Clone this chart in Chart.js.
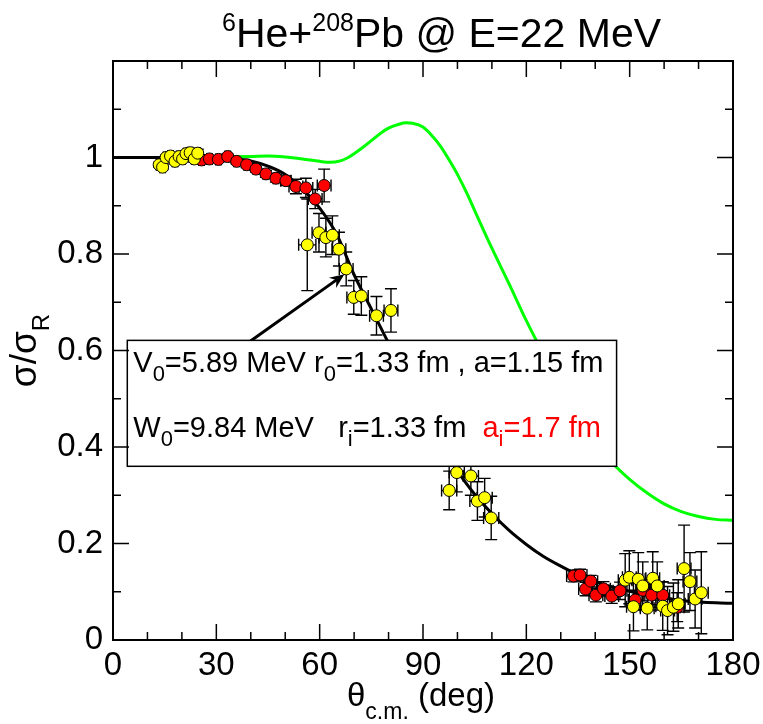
<!DOCTYPE html>
<html>
<head>
<meta charset="utf-8">
<script src="https://cdn.jsdelivr.net/npm/chart.js@4.4.1/dist/chart.umd.min.js"></script>
<style>
  body { margin: 0; background: #fff; }
  #wrap { width: 763px; height: 724px; }
</style>
</head>
<body>
<div id="wrap"><canvas id="chart"></canvas></div>
<script>
// theory curves
var blackTheta = [0,5,10,15,20,25,30,35,40,45,50,55,60,65,70,75,80,85,90,95,100,105,110,115,120,125,130,135,140,145,150,155,160,165,170,175,180];
var blackSigma = [1,1,1,1,1,1,0.999,0.997,0.993,0.982,0.965,0.935,0.895,0.84,0.757,0.686,0.615,0.54,0.47,0.405,0.35,0.302,0.262,0.227,0.198,0.173,0.153,0.135,0.121,0.11,0.101,0.093,0.087,0.082,0.079,0.077,0.076];

var greenTheta = [0,10,20,30,40,45,50,55,60,63,66,68,70,72,75,78,80,83,85,87,90,93,95,98,100,103,105,110,115,120,125,130,135,140,145,150,155,160,165,170,175,180];
var greenSigma = [1,1,1,1.001,1.002,1.003,1.001,0.997,0.992,0.99,0.993,0.999,1.008,1.018,1.035,1.052,1.061,1.069,1.072,1.071,1.063,1.042,1.024,0.99,0.965,0.922,0.89,0.812,0.738,0.662,0.592,0.525,0.465,0.41,0.367,0.333,0.305,0.282,0.266,0.256,0.25,0.248];

// data, red set
var redTheta = [25.7,28.0,30.6,33.3,35.9,38.8,41.5,44.4,47.3,50.2,53.1,56.0,58.7,61.3,133.7,135.6,137.2,138.7,140.2,142.4,144.8,147.2,151.6,153.9,156.4,159.6,163.8];
var redSigma = [0.995,0.997,0.996,1.002,0.992,0.985,0.976,0.966,0.957,0.952,0.94,0.937,0.914,0.942,0.1325,0.1346,0.1056,0.122,0.093,0.106,0.091,0.102,0.083,0.103,0.093,0.093,0.068];
var redErrY = [0.005,0.005,0.005,0.005,0.005,0.006,0.006,0.007,0.008,0.01,0.015,0.02,0.02,0.034,0.012,0.012,0.014,0.012,0.014,0.015,0.015,0.018,0.02,0.022,0.025,0.028,0.03];
var redErrX = [0.8,0.8,0.8,0.8,0.8,0.8,0.8,0.8,0.8,1.5,2,2,2,2,2,2,2,2,2,2,2,2,2,2,2,2,2];

// data, yellow set
var yellowTheta = [13.4,14.4,15.4,16.7,18.0,19.2,20.2,21.2,22.4,23.6,24.6,56.4,59.8,61.8,63.7,65.6,67.7,69.9,72.1,76.5,80.7,97.6,99.8,103.9,105.8,107.9,109.8,148.7,149.9,151.1,152.5,153.8,155.1,156.7,158.0,159.6,161.0,162.7,164.1,165.8,167.5,169.0,170.8];
var yellowSigma = [0.985,0.98,1.0,1.003,0.992,1.002,0.997,1.008,1.01,0.997,1.009,0.819,0.844,0.834,0.839,0.81,0.769,0.71,0.713,0.672,0.683,0.31,0.347,0.34,0.288,0.295,0.253,0.124,0.13,0.069,0.126,0.112,0.066,0.128,0.112,0.07,0.061,0.068,0.075,0.148,0.121,0.085,0.098];
var yellowErrY = [0.005,0.005,0.005,0.005,0.005,0.005,0.005,0.006,0.006,0.007,0.008,0.095,0.04,0.04,0.04,0.035,0.035,0.035,0.04,0.04,0.045,0.04,0.04,0.04,0.04,0.04,0.045,0.055,0.055,0.05,0.055,0.05,0.045,0.055,0.05,0.05,0.05,0.05,0.05,0.09,0.06,0.06,0.085];
var yellowErrX = [0.8,0.8,0.8,0.8,0.8,0.8,0.8,0.8,0.8,0.8,0.8,2.5,2,2,2,2,2,2,2,2,2,2.2,2.2,2.2,2.2,2.2,2.2,2,2,2,2,2,2,2,2,2,2,2,2,2,2,2,2];

var xTickStep = 10;
var yTickStep = 0.1;

function pts(xs, ys) {
  return xs.map(function (x, i) { return { x: x, y: ys[i] }; });
}

var FONT = "'Liberation Sans', Arial, Helvetica, sans-serif";

// draws a run of text pieces; style 'sub' / 'sup' shift and shrink
function drawRich(ctx, x, y, parts, size, subSize, subShift) {
  parts.forEach(function (p) {
    var t = p[0], st = p[1] || '', col = p[2] || '#000';
    var fs = size, dy = 0;
    if (st === 'sub') { fs = subSize; dy = subShift; }
    if (st === 'sup') { fs = subSize; dy = -subShift; }
    ctx.font = fs + 'px ' + FONT;
    ctx.fillStyle = col;
    ctx.fillText(t, x, y + dy);
    x += ctx.measureText(t).width;
  });
  return x;
}

function richWidth(ctx, parts, size, subSize) {
  var w = 0;
  parts.forEach(function (p) {
    ctx.font = ((p[1] === 'sub' || p[1] === 'sup') ? subSize : size) + 'px ' + FONT;
    w += ctx.measureText(p[0]).width;
  });
  return w;
}

var errorBars = {
  id: 'errorBars',
  beforeDatasetsDraw: function (chart) {
    var ctx = chart.ctx, xs = chart.scales.x, ys = chart.scales.y;
    var cap = 6;
    ctx.save();
    ctx.strokeStyle = '#000';
    ctx.lineWidth = 1.4;
    [[redTheta, redSigma, redErrX, redErrY], [yellowTheta, yellowSigma, yellowErrX, yellowErrY]].forEach(function (s) {
      for (var i = 0; i < s[0].length; i++) {
        var px = xs.getPixelForValue(s[0][i]);
        var py = ys.getPixelForValue(s[1][i]);
        var y1 = ys.getPixelForValue(s[1][i] + s[3][i]);
        var y2 = ys.getPixelForValue(s[1][i] - s[3][i]);
        var x1 = xs.getPixelForValue(s[0][i] - s[2][i]);
        var x2 = xs.getPixelForValue(s[0][i] + s[2][i]);
        ctx.beginPath();
        ctx.moveTo(px, y1); ctx.lineTo(px, y2);
        ctx.moveTo(px - cap, y1); ctx.lineTo(px + cap, y1);
        ctx.moveTo(px - cap, y2); ctx.lineTo(px + cap, y2);
        ctx.moveTo(x1, py); ctx.lineTo(x2, py);
        ctx.moveTo(x1, py - cap); ctx.lineTo(x1, py + cap);
        ctx.moveTo(x2, py - cap); ctx.lineTo(x2, py + cap);
        ctx.stroke();
      }
    });
    ctx.restore();
  }
};

var annot = {
  id: 'annot',
  afterDatasetsDraw: function (chart) {
    var ctx = chart.ctx, xs = chart.scales.x, ys = chart.scales.y;
    ctx.save();
    // arrow
    var ax0 = xs.getPixelForValue(38), ay0 = ys.getPixelForValue(0.61);
    var ax1 = xs.getPixelForValue(67.2), ay1 = ys.getPixelForValue(0.758);
    var ang = Math.atan2(ay1 - ay0, ax1 - ax0);
    ctx.strokeStyle = '#000';
    ctx.fillStyle = '#000';
    ctx.lineWidth = 3;
    ctx.beginPath();
    ctx.moveTo(ax0, ay0);
    ctx.lineTo(ax1 - 8 * Math.cos(ang), ay1 - 8 * Math.sin(ang));
    ctx.stroke();
    ctx.beginPath();
    ctx.moveTo(ax1, ay1);
    ctx.lineTo(ax1 - 16 * Math.cos(ang - 0.4), ay1 - 16 * Math.sin(ang - 0.4));
    ctx.lineTo(ax1 - 10 * Math.cos(ang), ay1 - 10 * Math.sin(ang));
    ctx.lineTo(ax1 - 16 * Math.cos(ang + 0.4), ay1 - 16 * Math.sin(ang + 0.4));
    ctx.closePath();
    ctx.fill();

    // parameter box
    var bl = xs.getPixelForValue(4.15), br = xs.getPixelForValue(146.2);
    var bt = ys.getPixelForValue(0.621), bb = ys.getPixelForValue(0.36);
    ctx.fillStyle = '#fff';
    ctx.fillRect(bl, bt, br - bl, bb - bt);
    ctx.strokeStyle = '#000';
    ctx.lineWidth = 1.5;
    ctx.strokeRect(bl, bt, br - bl, bb - bt);

    ctx.textAlign = 'left';
    ctx.textBaseline = 'alphabetic';
    drawRich(ctx, bl + 6, bt + 32, [
      ['V'], ['0', 'sub'], ['=5.89 MeV r'], ['0', 'sub'], ['=1.33 fm , a=1.15 fm']
    ], 29, 22, 9);
    drawRich(ctx, bl + 6, bt + 97, [
      ['W'], ['0', 'sub'], ['=9.84 MeV   r'], ['i', 'sub'], ['=1.33 fm  '],
      ['a', '', '#ff0000'], ['i', 'sub', '#ff0000'], ['=1.7 fm', '', '#ff0000']
    ], 29, 22, 9);
    ctx.restore();
  }
};

var frame = {
  id: 'frame',
  afterDraw: function (chart) {
    var ctx = chart.ctx, a = chart.chartArea, xs = chart.scales.x, ys = chart.scales.y;
    ctx.save();
    ctx.strokeStyle = '#000';
    ctx.lineWidth = 2;
    ctx.strokeRect(a.left, a.top, a.right - a.left, a.bottom - a.top);
    ctx.lineWidth = 1.5;
    ctx.beginPath();
    for (var v = 0; v <= 180; v += xTickStep) {
      var len = v % 30 === 0 ? 16 : 8;
      var px = xs.getPixelForValue(v);
      ctx.moveTo(px, a.bottom); ctx.lineTo(px, a.bottom - len);
      ctx.moveTo(px, a.top); ctx.lineTo(px, a.top + len);
    }
    for (var k = 0; k <= 12; k++) {
      var l2 = k % 2 === 0 ? 16 : 8;
      var py = ys.getPixelForValue(k * yTickStep);
      ctx.moveTo(a.left, py); ctx.lineTo(a.left + l2, py);
      ctx.moveTo(a.right, py); ctx.lineTo(a.right - l2, py);
    }
    ctx.stroke();

    // title
    ctx.textBaseline = 'alphabetic';
    ctx.textAlign = 'left';
    drawRich(ctx, 222, 47, [['6', 'sup'], ['He+'], ['208', 'sup'], ['Pb @ E=22 MeV']], 41, 25, 16);

    // x title
    var xparts = [['\u03B8'], ['c.m.', 'sub'], [' (deg)']];
    var xw = richWidth(ctx, xparts, 33, 23);
    drawRich(ctx, (a.left + a.right) / 2 - xw / 2 - 2, 706, xparts, 33, 23, 13);

    // y title
    ctx.translate(36, (a.top + a.bottom) / 2);
    ctx.rotate(-Math.PI / 2);
    var yparts = [['\u03C3/\u03C3'], ['R', 'sub']];
    var yw = richWidth(ctx, yparts, 37, 24);
    drawRich(ctx, -yw / 2, 0, yparts, 37, 24, 13);
    ctx.restore();
  }
};

var chart = new Chart(document.getElementById('chart'), {
  type: 'scatter',
  data: {
    datasets: [
      {
        label: 'yellow', data: pts(yellowTheta, yellowSigma), order: 0,
        backgroundColor: '#ffff00', borderColor: '#000', borderWidth: 1,
        pointRadius: 6, pointHoverRadius: 6
      },
      {
        label: 'red', data: pts(redTheta, redSigma), order: 1,
        backgroundColor: '#ff0000', borderColor: '#000', borderWidth: 1,
        pointRadius: 6, pointHoverRadius: 6
      },
      {
        label: 'black', data: pts(blackTheta, blackSigma), order: 2,
        showLine: true, borderColor: '#000', borderWidth: 3, pointRadius: 0,
        cubicInterpolationMode: 'monotone', fill: false
      },
      {
        label: 'green', data: pts(greenTheta, greenSigma), order: 3,
        showLine: true, borderColor: '#00ff00', borderWidth: 3, pointRadius: 0,
        cubicInterpolationMode: 'monotone', fill: false
      }
    ]
  },
  options: {
    responsive: true,
    maintainAspectRatio: false,
    animation: false,
    devicePixelRatio: 1,
    layout: { padding: { top: 61, right: 30, left: 0, bottom: 0 } },
    plugins: {
      legend: { display: false },
      tooltip: { enabled: false },
      title: { display: false }
    },
    scales: {
      x: {
        type: 'linear', min: 0, max: 180,
        grid: { display: false, drawTicks: false },
        border: { display: false },
        afterFit: function (s) { s.height = 84; s.paddingLeft = 0; s.paddingRight = 0; },
        ticks: {
          stepSize: xTickStep, padding: 6, color: '#000', maxRotation: 0, autoSkip: false,
          font: { family: FONT, size: 33 },
          callback: function (v) { return v % 30 === 0 ? String(v) : ''; }
        }
      },
      y: {
        type: 'linear', min: 0, max: 1.2,
        grid: { display: false, drawTicks: false },
        border: { display: false },
        afterFit: function (s) { s.width = 113; s.paddingTop = 0; s.paddingBottom = 0; },
        ticks: {
          stepSize: yTickStep, padding: 10, color: '#000', autoSkip: false,
          font: { family: FONT, size: 33 },
          callback: function (v) {
            var k = Math.round(v * 10);
            if (k % 2 !== 0 || k > 10) return '';
            if (k === 0) return '0';
            if (k === 10) return '1';
            return (k / 10).toFixed(1);
          }
        }
      }
    }
  },
  plugins: [errorBars, annot, frame]
});
</script>
</body>
</html>
